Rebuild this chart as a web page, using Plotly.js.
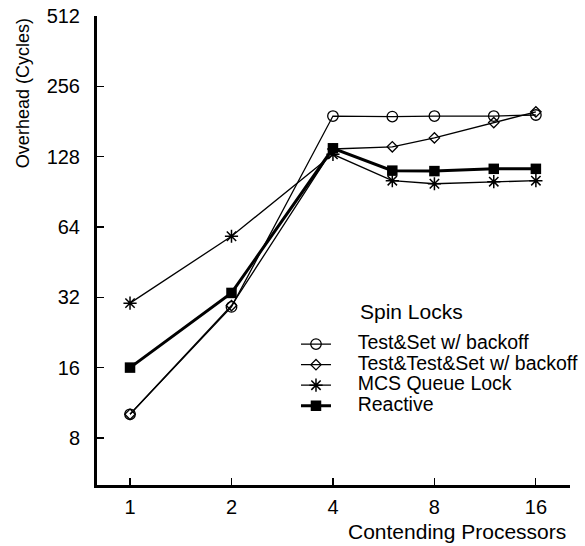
<!DOCTYPE html>
<html>
<head>
<meta charset="utf-8">
<script src="https://cdn.plot.ly/plotly-3.0.1.min.js"></script>
<style>html,body{margin:0;padding:0;background:#fff;}#chart{width:585px;height:546px;}</style>
</head>
<body>
<div id="chart"></div>
<script>
const processors = [1, 2, 4, 6, 8, 12, 16];
const testAndSet = [10.1, 29.1, 191, 190, 191, 191, 193];
const testTestAndSet = [10.1, 29.5, 138, 141, 154, 179, 199];
const mcsQueue = [30.2, 58.4, 131, 101, 98, 100, 101];
const reactive = [16, 33.4, 139, 111.5, 111, 113.5, 113.5];
const xTicks = [1, 2, 4, 8, 16];
const yTicks = [8, 16, 32, 64, 128, 256, 512];
const seriesNames = ['Test&Set w/ backoff', 'Test&Test&Set w/ backoff', 'MCS Queue Lock', 'Reactive'];

const FONT = 'Liberation Sans, Arial, Helvetica, sans-serif';
const big = s => '<span style="font-size:19.5px">&nbsp;&nbsp;&nbsp;&nbsp;' + s.replace(/&/g, '&amp;') + '</span>';

const traces = [
  {x: processors, y: testAndSet, name: big(seriesNames[0]), mode: 'lines+markers',
   line: {color: '#000', width: 1.3},
   marker: {symbol: 'circle-open', size: 10.5, color: '#000', line: {width: 1.3}}},
  {x: processors, y: testTestAndSet, name: big(seriesNames[1]), mode: 'lines+markers',
   line: {color: '#000', width: 1.3},
   marker: {symbol: 'diamond-open', size: 8, color: '#000', line: {width: 1.3}}},
  {x: processors, y: mcsQueue, name: big(seriesNames[2]), mode: 'lines+markers',
   line: {color: '#000', width: 1.3},
   marker: {symbol: 'asterisk-open', size: 11, color: '#000', line: {width: 1.5}}},
  {x: processors, y: reactive, name: big(seriesNames[3]), mode: 'lines+markers',
   line: {color: '#000', width: 3},
   marker: {symbol: 'square', size: 10.5, color: '#000'}}
];

const layout = {
  width: 585, height: 546,
  margin: {l: 97, r: 15, t: 16, b: 61, autoexpand: false},
  paper_bgcolor: '#fff', plot_bgcolor: '#fff',
  font: {family: FONT, size: 18, color: '#000'},
  showlegend: true,
  legend: {x: 0.4207, y: 0.333, xanchor: 'left', yanchor: 'top',
           bgcolor: 'rgba(0,0,0,0)', itemwidth: 30,
           font: {family: FONT, size: 13.5, color: '#000'}},
  xaxis: {type: 'log', range: [Math.log10(0.798), Math.log10(20.2)],
          tickvals: xTicks, ticktext: xTicks.map(String),
          ticks: 'inside', ticklen: 7, tickwidth: 1.2, tickcolor: '#000',
          showline: true, linewidth: 3, linecolor: '#000',
          showgrid: false, zeroline: false, ticklabelstandoff: 2,
          tickfont: {family: FONT, size: 20, color: '#000'}},
  yaxis: {type: 'log', range: [Math.log10(5.03), Math.log10(512)],
          tickvals: yTicks, ticktext: yTicks.map(String),
          ticks: 'inside', ticklen: 7, tickwidth: 1.2, tickcolor: '#000',
          showline: true, linewidth: 3, linecolor: '#000',
          showgrid: false, zeroline: false, ticklabelstandoff: 10,
          tickfont: {family: FONT, size: 20, color: '#000'}},
  annotations: [
    {text: 'Contending Processors', xref: 'paper', yref: 'paper', x: 0.996, y: -0.100,
     xanchor: 'right', yanchor: 'middle', showarrow: false,
     font: {family: FONT, size: 21, color: '#000'}},
    {text: 'Overhead (Cycles)', xref: 'paper', yref: 'paper', x: -0.156, y: 0.836,
     xanchor: 'center', yanchor: 'middle', textangle: -90, showarrow: false,
     font: {family: FONT, size: 18, color: '#000'}},
    {text: 'Spin Locks', xref: 'paper', yref: 'paper', x: 0.552, y: 0.369,
     xanchor: 'left', yanchor: 'middle', showarrow: false,
     font: {family: FONT, size: 21, color: '#000'}}
  ]
};

Plotly.newPlot('chart', traces, layout, {displayModeBar: false, staticPlot: true});
</script>
</body>
</html>
